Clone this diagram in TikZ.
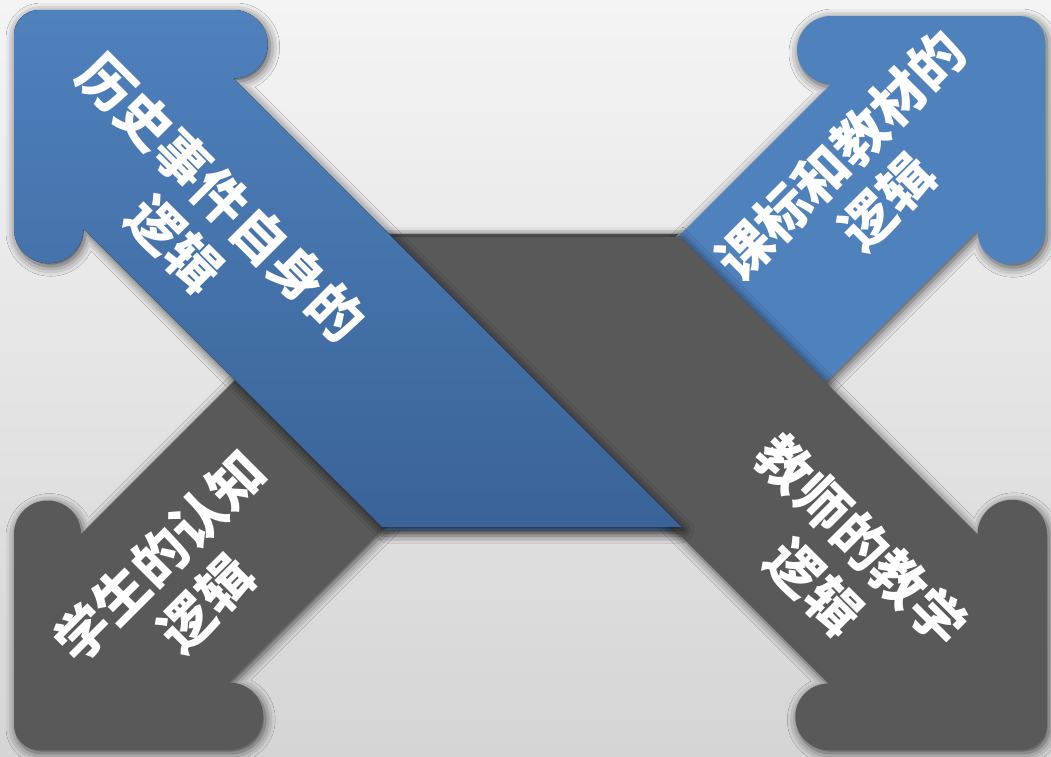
\documentclass[tikz,border=0pt]{standalone}
\usepackage{fontspec}
\usepackage{tikz}
\usetikzlibrary{shadows.blur}
\newfontfamily\cjk{Noto Sans CJK SC}
\definecolor{bgtop}{RGB}{244,244,244}
\definecolor{bgbot}{RGB}{213,213,213}
\definecolor{bluelight}{RGB}{79,129,189}
\definecolor{bluedark}{RGB}{58,99,152}
\definecolor{arrowgray}{RGB}{89,89,89}
\begin{document}
\begin{tikzpicture}[x=1pt,y=-1pt]
\tikzstyle{every node}+=[inner sep=0pt]
\tikzset{
  softshadow/.style={blur shadow={shadow xshift=2pt,shadow yshift=-3pt,shadow blur radius=10pt,shadow opacity=70}},
  arrowtext/.style={text=white,align=center,font=\cjk\bfseries\fontsize{54}{66}\selectfont}
}
\useasboundingbox (0,0) rectangle (1051,756);
\fill [top color=bgtop,bottom color=bgbot] (0,0) rectangle (1051,756);
\fill [arrowgray,softshadow] (381,234) -- (81,534) arc (360:180:33.5) -- (14,725) arc (180:90:25)
  -- (229.5,750) arc (90:-90:33.75) -- (678,234) -- cycle;
\fill [bluelight,softshadow] (385,530) -- (831,84) arc (90:270:34) -- (1020,16) arc (270:360:25)
  -- (1045,230.5) arc (0:180:33.75) -- (678,530) -- cycle;
\fill [arrowgray,softshadow] (382,237) -- (828.5,683.5) arc (270:90:33.25) -- (1022,750) arc (90:0:25)
  -- (1047,534.5) arc (360:180:34.75) -- (680,237) -- cycle;
\fill [softshadow,top color=bluelight,bottom color=bluedark] (382,527) -- (83.5,228.5) arc (0:180:34.75)
  -- (14,35) arc (180:270:25) -- (233.5,10) arc (-90:90:34.25) -- (682,527) -- cycle;
\node [arrowtext,rotate=-45] (eventlogic) at (198,221) {历史事件自身的\\逻辑};
\node [arrowtext,rotate=45] (standardlogic) at (864,179) {课标和教材的\\逻辑};
\node [arrowtext,rotate=45] (learnerlogic) at (183,580) {学生的认知\\逻辑};
\node [arrowtext,rotate=-45] (teacherlogic) at (838,564) {教师的教学\\逻辑};
\end{tikzpicture}
\end{document}
